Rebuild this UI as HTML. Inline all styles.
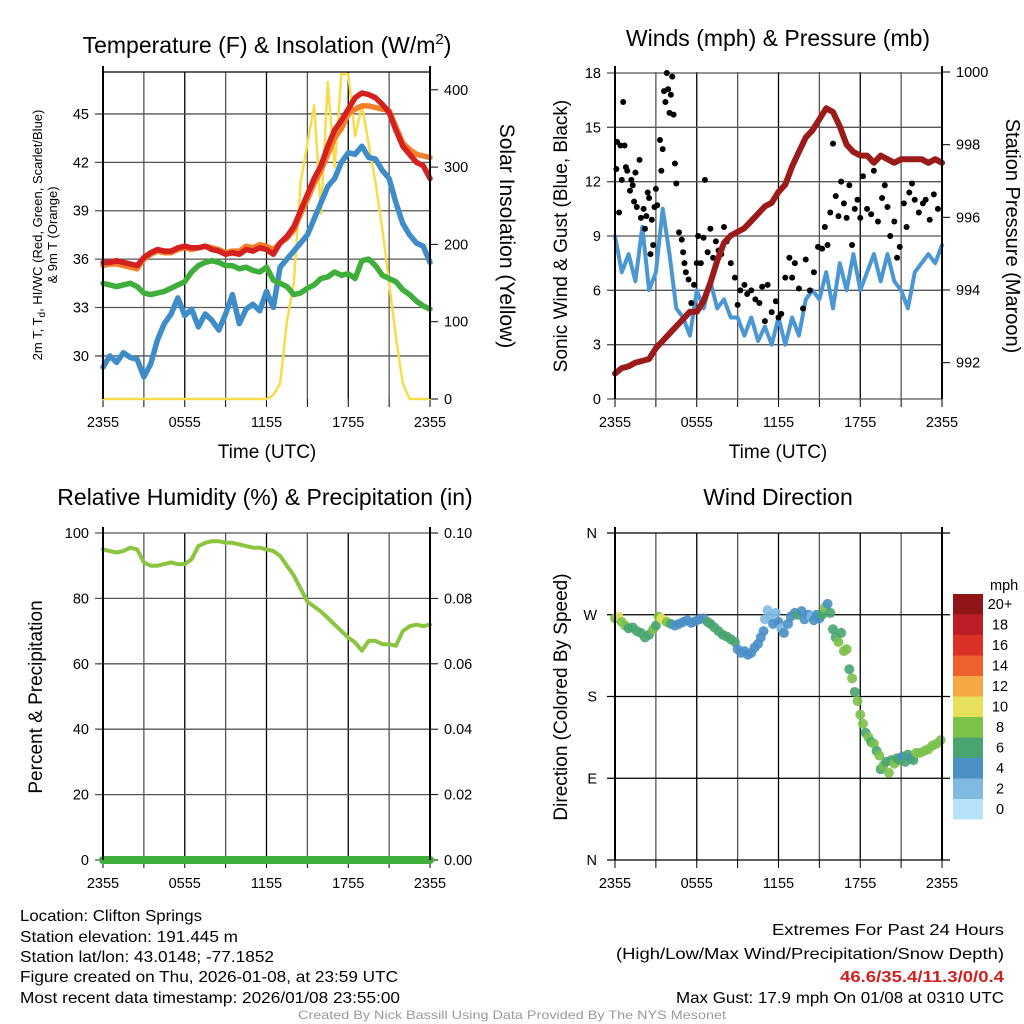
<!DOCTYPE html>
<html><head><meta charset="utf-8"><style>
html,body{margin:0;padding:0;background:#fff;}
svg{display:block;font-family:"Liberation Sans",sans-serif;}
.t{font-size:23px;fill:#000;}
.al{font-size:19px;fill:#000;}
.tk{font-size:14.5px;fill:#000;}
.nar{font-family:"Liberation Sans Narrow","Liberation Sans",sans-serif;font-size:16px;fill:#000;}
</style></head><body>
<svg id="chart" width="1024" height="1024" viewBox="0 0 1024 1024" xmlns="http://www.w3.org/2000/svg">
<text class="t" x="267" y="53" text-anchor="middle">Temperature (F) &amp; Insolation (W/m<tspan dy="-9" font-size="15">2</tspan><tspan dy="9">)</tspan></text>
<text class="t" x="778" y="46" text-anchor="middle">Winds (mph) &amp; Pressure (mb)</text>
<text class="t" x="265" y="505" text-anchor="middle">Relative Humidity (%) &amp; Precipitation (in)</text>
<text class="t" x="778" y="505" text-anchor="middle">Wind Direction</text>

<text class="al" x="267" y="458" text-anchor="middle">Time (UTC)</text>
<text class="al" x="778" y="458" text-anchor="middle">Time (UTC)</text>

<g transform="translate(42,235) rotate(-90)">
<text x="0" y="0" text-anchor="middle" font-size="13">2m T, T<tspan dy="3" font-size="10">d</tspan><tspan dy="-3">, HI/WC (Red, Green, Scarlet/Blue)</tspan></text>
<text x="0" y="15" text-anchor="middle" font-size="13">&amp; 9m T (Orange)</text>
</g>
<text transform="translate(500,236) rotate(90)" text-anchor="middle" font-size="21">Solar Insolation (Yellow)</text>
<text class="al" transform="translate(567,236) rotate(-90)" text-anchor="middle">Sonic Wind &amp; Gust (Blue, Black)</text>
<text transform="translate(1006,236) rotate(90)" text-anchor="middle" font-size="20">Station Pressure (Maroon)</text>
<text class="al" transform="translate(42,697) rotate(-90)" text-anchor="middle">Percent &amp; Precipitation</text>
<text class="al" transform="translate(567,697) rotate(-90)" text-anchor="middle">Direction (Colored By Speed)</text>

<g>
<text class="nar" x="20" y="921" textLength="182" lengthAdjust="spacingAndGlyphs">Location: Clifton Springs</text>
<text class="nar" x="20" y="942" textLength="218" lengthAdjust="spacingAndGlyphs">Station elevation: 191.445 m</text>
<text class="nar" x="20" y="962" textLength="254" lengthAdjust="spacingAndGlyphs">Station lat/lon: 43.0148; -77.1852</text>
<text class="nar" x="20" y="982" textLength="378" lengthAdjust="spacingAndGlyphs">Figure created on Thu, 2026-01-08, at 23:59 UTC</text>
<text class="nar" x="20" y="1003" textLength="380" lengthAdjust="spacingAndGlyphs">Most recent data timestamp: 2026/01/08 23:55:00</text>
</g>
<g>
<text class="nar" x="1004" y="935" text-anchor="end" textLength="232" lengthAdjust="spacingAndGlyphs">Extremes For Past 24 Hours</text>
<text class="nar" x="1004" y="959" text-anchor="end" textLength="388" lengthAdjust="spacingAndGlyphs">(High/Low/Max Wind/Precipitation/Snow Depth)</text>
<text class="nar" x="1004" y="982" text-anchor="end" font-weight="bold" style="fill:#d02020" textLength="164" lengthAdjust="spacingAndGlyphs">46.6/35.4/11.3/0/0.4</text>
<text class="nar" x="1004" y="1003" text-anchor="end" textLength="328" lengthAdjust="spacingAndGlyphs">Max Gust: 17.9 mph On 01/08 at 0310 UTC</text>
</g>
<text x="512" y="1019" text-anchor="middle" font-size="12" fill="#999" font-family="Liberation Sans Narrow, Liberation Sans, sans-serif" textLength="428" lengthAdjust="spacingAndGlyphs">Created By Nick Bassill Using Data Provided By The NYS Mesonet</text>
</svg>
<script>
// ---- data (30-minute samples, hour 0 = 2355 UTC previous day) ----
const tempHours = [0,0.5,1,1.5,2,2.5,3,3.5,4,4.5,5,5.5,6,6.5,7,7.5,8,8.5,9,9.5,10,10.5,11,11.5,12,12.5,13,13.5,14,14.5,15,15.5,16,16.5,17,17.5,18,18.5,19,19.5,20,20.5,21,21.5,22,22.5,23,23.5,24];
const temp2m = [35.8,35.8,35.9,35.8,35.7,35.6,36.1,36.4,36.6,36.5,36.5,36.7,36.8,36.7,36.7,36.8,36.6,36.5,36.3,36.4,36.3,36.6,36.5,36.7,36.6,36.3,37.0,37.4,38.0,39.0,40.0,41.0,41.8,43.0,44.0,44.6,45.3,46.0,46.3,46.2,46.0,45.6,45.1,44.0,43.0,42.5,42.0,41.8,41.0];
const temp9m = [35.6,35.7,35.7,35.6,35.5,35.4,36.0,36.3,36.5,36.4,36.4,36.6,36.7,36.6,36.7,36.8,36.7,36.6,36.4,36.5,36.5,36.8,36.7,36.9,36.8,36.6,37.0,37.3,37.8,38.8,39.7,40.7,41.5,42.5,43.5,44.1,45.0,45.3,45.5,45.5,45.4,45.3,45.2,44.2,43.2,42.8,42.5,42.4,42.3];
const heatIndex = [34.5,34.4,34.3,34.4,34.5,34.3,33.9,33.8,33.9,34.0,34.2,34.4,34.6,35.2,35.6,35.8,35.9,35.8,35.6,35.6,35.4,35.5,35.3,35.2,35.5,34.7,34.5,34.3,33.8,33.9,34.2,34.4,34.8,34.9,35.2,35.0,35.1,34.8,35.9,36.0,35.6,35.0,34.8,34.6,34.1,33.8,33.4,33.1,32.9];
const dewpoint = [29.3,30.0,29.6,30.2,29.9,29.8,28.7,29.5,31.0,32.0,32.6,33.6,32.5,32.9,31.8,32.6,32.2,31.6,32.6,33.8,32.0,32.9,33.2,32.8,34.0,33.0,35.5,36.0,36.5,37.0,37.5,38.5,39.5,40.5,41.0,42.0,42.6,42.5,43.0,42.3,42.2,41.5,41.0,39.5,38.2,37.5,37.0,36.8,35.8];
const solar = [0,0,0,0,0,0,0,0,0,0,0,0,0,0,0,0,0,0,0,0,0,0,0,0,0,5,20,100,150,280,330,380,240,410,300,420,420,340,380,330,280,220,150,80,20,0,0,0,0];
const pressure = [991.7,991.85,991.9,992.0,992.05,992.1,992.4,992.6,992.8,993.0,993.2,993.4,993.4,993.7,994.2,994.8,995.3,995.5,995.6,995.7,995.9,996.1,996.3,996.4,996.7,996.9,997.4,997.8,998.2,998.4,998.7,999.0,998.9,998.5,998.0,997.8,997.7,997.7,997.5,997.7,997.6,997.5,997.6,997.6,997.6,997.6,997.5,997.6,997.5];
const windSpeed = [9,7,8,6.5,9.5,6,7,10.5,8,5,4.5,3.5,6,5,6.5,5,5.5,4.5,4.5,3.5,4.5,3.2,4,3,4.5,3,4.5,3.5,5.5,6,5.5,7,5,7.5,6,8,6,7,8,6.5,8,6.5,6,5,7,7.5,8,7.5,8.5];
const humidity = [95,94.5,94,94.5,95.5,95,91,90,90,90.5,91,90.5,90.5,92,96,97,97.5,97.5,97,97,96.5,96,95.5,95.5,95,94.5,93,90,87,83,79,77.5,76,74,72,70,68,66.5,64,67,67,66,66,65.5,70,71.5,72,71.5,72];
const precip = [0,0,0,0,0,0,0,0,0,0,0,0,0,0,0,0,0,0,0,0,0,0,0,0,0,0,0,0,0,0,0,0,0,0,0,0,0,0,0,0,0,0,0,0,0,0,0,0,0];
const gustHours = [0.1,0.15,0.3,0.4,0.5,0.6,0.7,0.8,0.9,1.1,1.2,1.3,1.4,1.5,1.6,1.8,1.9,2.1,2.2,2.3,2.4,2.5,2.6,2.7,2.8,2.9,3.0,3.1,3.3,3.4,3.5,3.6,3.7,3.8,3.9,4.0,4.1,4.2,4.3,4.4,4.5,4.7,4.9,5.0,5.1,5.2,5.4,5.6,5.8,6.0,6.1,6.3,6.5,6.6,6.8,7.0,7.2,7.4,7.6,7.8,8.0,8.2,8.5,8.8,9.0,9.2,9.5,9.7,10.0,10.3,10.6,10.8,11.0,11.2,11.5,11.8,12.0,12.2,12.5,12.8,13.0,13.2,13.5,13.8,14.0,14.3,14.6,14.9,15.2,15.4,15.6,15.8,16.0,16.2,16.4,16.6,16.8,17.0,17.2,17.4,17.6,17.8,18.0,18.2,18.5,18.8,19.0,19.3,19.6,19.8,20.0,20.2,20.5,20.7,20.9,21.2,21.4,21.6,21.8,22.0,22.3,22.6,22.8,23.1,23.4,23.7];
const gustValues = [12.7,14.2,10.3,14,12.1,16.4,14,12.8,12.6,11.5,12.1,11.8,10.9,12.5,10.6,13.2,10,10.5,9.4,10.1,11.4,11.1,8,9.9,8.5,10.6,11.6,10.7,14.3,12.6,13.8,17,16.4,18,17.1,15.8,16.8,17.8,15.7,13,11.9,9.2,8.8,8.1,7.5,7,6.6,5.3,6.3,7.5,9,7.5,8.9,12.1,8.1,9.4,7.8,8.7,8.2,8,9.5,8.7,7.5,6.7,5.2,6.0,6.3,5.8,6.0,5.5,5.3,6.2,4.3,6.3,4.8,5.4,4.5,4.7,6.7,7.8,6.7,7.5,6.1,5.0,7.7,6.0,7.0,8.4,8.3,9.5,8.5,10.3,14.1,11.2,10.1,12,10.8,10,11.8,8.5,10.5,11,10.0,12.3,10.5,10.2,12.6,9.8,11.1,11.8,10.6,9.0,9.8,7.8,8.4,10.8,9.5,11.4,11.9,11,10.3,10.8,11,9.9,11.3,10.5];
const dirHours = [0,0.25,0.5,0.75,1.0, 1.3,1.6,1.9,2.2,2.5,2.8,3.0, 3.2,3.4,3.6,3.8,4.1,4.4, 4.7,5.0,5.3,5.6,5.9,6.2,6.5,6.8,7.0, 7.3,7.6,7.9,8.2,8.5,8.8, 9.0,9.25,9.5,9.75,10.0,10.25,10.5, 10.7,10.9,11.0,11.2,11.4,11.6,11.8,12.0,12.2, 12.4,12.7,12.9,13.2,13.4,13.7,13.9,14.2,14.4,14.6,14.8,15.0, 15.2,15.4,15.6,15.8, 16.0,16.2,16.4,16.6,16.8,17.0, 17.2,17.4,17.6,17.8,18.0,18.2, 18.4,18.6,18.8,19.0,19.2,19.4, 19.5,19.7,19.9,20.1,20.3,20.5, 20.7,20.9,21.1,21.3,21.5,21.7,21.9,22.1, 22.4,22.7,23.0,23.3,23.6,23.9];
const dirDegrees = [266,268,262,258,255, 256,252,250,245,248,254,258, 268,266,264,262,260,258, 260,262,264,261,263,265,266,262,260, 256,252,248,246,243,240, 232,228,230,226,228,234,238, 245,252,265,275,268,260,272,262,255, 250,260,268,272,270,274,265,270,268,264,270,266, 270,278,282,272, 254,245,240,250,230,232, 210,200,185,175,160,150, 140,135,130,128,120,115, 100,104,108,96,110,106, 112,110,114,108,116,112,110,118, 118,120,122,126,128,132];
const dirSpeeds = [9,10,8,8,7, 6,6,6,6,6,8,6, 8,10,10,9,6,4, 4,4,4,4,4,4,4,6,6, 6,6,6,6,6,6, 4,4,4,4,4,4,4, 4,4,2,2,2,4,2,4,2, 4,4,4,4,6,4,4,4,2,4,4,4, 6,8,4,6, 6,6,8,6,8,8, 6,8,6,8,8,8, 6,8,6,8,6,8, 6,8,6,8,6,8, 6,6,4,6,6,4,6,8, 8,8,8,8,8,8];
const xTickLabels = ["2355","0555","1155","1755","2355"];
const tempTicks = [30,33,36,39,42,45];
const solarTicks = [0,100,200,300,400];
const windTicks = [0,3,6,9,12,15,18];
const pressTicks = [992,994,996,998,1000];
const rhTicks = [0,20,40,60,80,100];
const precipTicks = ["0.00","0.02","0.04","0.06","0.08","0.10"];
const dirLabels = ["N","E","S","W","N"];
const legendLabels = ["0","2","4","6","8","10","12","14","16","18","20+"];
const legendColors = ["#b5e2f8","#80b9e2","#4a8fc6","#48a56f","#7cc14a","#e6e05a","#f5a843","#ee612c","#dc3127","#bb1e24","#8f1519"];

const NS = "http://www.w3.org/2000/svg";
const svg = document.getElementById("chart");
function mk(tag, attrs, parent){const e=document.createElementNS(NS,tag);for(const k in attrs)e.setAttribute(k,attrs[k]);(parent||svg).appendChild(e);return e;}
function lin(d0,d1,r0,r1){return v=>r0+(v-d0)*(r1-r0)/(d1-d0);}

const P1={l:103,r:430,t:72,b:399}, P2={l:615,r:942,t:72,b:399}, P3={l:103,r:430,t:533,b:860}, P4={l:615,r:942,t:533,b:860};

function frame(P,name){
  const g=mk("g",{});
  
  
  const x=lin(0,24,P.l,P.r);
  for(let h=0;h<=24;h+=3){
    const l=mk("line",{x1:x(h),x2:x(h),y1:P.t,y2:P.b,stroke:(h%6===0)?"#000":"#555","stroke-width":1.3},g);
    
    
    const tk=mk("line",{x1:x(h),x2:x(h),y1:P.b,y2:P.b+8,stroke:"#000"},g);
    
    
  }
  xTickLabels.forEach((s,i)=>{
    const t=mk("text",{x:x(i*6),y:P.b+28,"text-anchor":"middle",class:"tk"},g);
    t.textContent=s;
    
    
  });
  return {g,x};
}
function hgrid(g,P,y,vals,labels,side,major){
  vals.forEach((v,i)=>{
    const yy=y(v);
    const l=mk("line",{x1:P.l-(side==="l"?8:0),x2:P.r+(side==="r"?8:0),y1:yy,y2:yy,stroke:major?"#000":"#555","stroke-width":1.3},g);
    
    
    const t=mk("text",{x:side==="l"?P.l-14:P.r+14,y:yy+5,"text-anchor":side==="l"?"end":"start",class:"tk"},g);
    t.textContent=labels?labels[i]:v;
    
    
  });
}
function rticks(g,P,y,vals,labels){
  vals.forEach((v,i)=>{
    const yy=y(v);
    const l=mk("line",{x1:P.r,x2:P.r+8,y1:yy,y2:yy,stroke:"#000"},g);
    
    
    const t=mk("text",{x:P.r+14,y:yy+5,class:"tk"},g);
    t.textContent=labels?labels[i]:v;
    
    
  });
}
function line(g,xs,ys,x,y,color,w,name){
  const d=xs.map((h,i)=>(i?"L":"M")+x(h).toFixed(1)+","+y(ys[i]).toFixed(1)).join("");
  const p=mk("path",{d:d,fill:"none",stroke:color,"stroke-width":w,"stroke-linejoin":"round","stroke-linecap":"round"},g);
  
  
}
function axesBox(g,P){
  const l1=mk("line",{x1:P.l,x2:P.l,y1:P.t-6,y2:P.b,stroke:"#000","stroke-width":2},g);
  
  
  const l2=mk("line",{x1:P.r,x2:P.r,y1:P.t-6,y2:P.b,stroke:"#000","stroke-width":2},g);
  
  
}

// Panel 1
{
  const {g,x}=frame(P1,'temperature');
  const y=lin(27.33,47.6,P1.b,P1.t), ys=lin(0,423,P1.b,P1.t);
  hgrid(g,P1,y,tempTicks,null,"l",false);
  const top=mk("line",{x1:P1.l,x2:P1.r,y1:P1.t,y2:P1.t,stroke:"#000","stroke-width":1.2},g);
  
  
  rticks(g,P1,ys,solarTicks,null);
  line(g,tempHours,solar,x,ys,"#f7dc4b",2.5,'solar-insolation-line');
  line(g,tempHours,dewpoint,x,y,"#3f8dc8",5.5,'dewpoint-line');
  line(g,tempHours,heatIndex,x,y,"#3fae3a",5.5,'heat-index-line');
  line(g,tempHours,temp9m,x,y,"#f47f2a",5.5,'temp-9m-line');
  line(g,tempHours,temp2m,x,y,"#d4201f",5.5,'temp-2m-line');
  axesBox(g,P1);
}
// Panel 2
{
  const {g,x}=frame(P2,'wind');
  const y=lin(0,18,P2.b,P2.t+1), yp=lin(991.0,1000,P2.b,P2.t);
  hgrid(g,P2,y,windTicks,null,"l",false);
  rticks(g,P2,yp,pressTicks,null);
  line(g,tempHours,windSpeed,x,y,"#4a97d4",4,'sonic-wind-line');
  gustHours.forEach((h,i)=>{
    const c=mk("circle",{cx:x(h),cy:y(gustValues[i]),r:3,fill:"#000"},g);
    
    
  });
  line(g,tempHours,pressure,x,yp,"#9b1b1b",6,'station-pressure-line');
  axesBox(g,P2);
}
// Panel 3
{
  const {g,x}=frame(P3,'humidity');
  const y=lin(0,100,P3.b,P3.t), yq=lin(0,0.1,P3.b,P3.t);
  hgrid(g,P3,y,rhTicks,null,"l",false);
  rticks(g,P3,yq,[0,0.02,0.04,0.06,0.08,0.1],precipTicks);
  line(g,tempHours,humidity,x,y,"#8bc540",4,'relative-humidity-line');
  line(g,tempHours,precip,x,yq,"#3fae3a",8,'precipitation-line');
  axesBox(g,P3);
}
// Panel 4
{
  const {g,x}=frame(P4,'wind-direction');
  const y=lin(0,360,P4.b,P4.t);
  [0,90,180,270,360].forEach((v,i)=>{
    const yy=y(v);
    const l=mk("line",{x1:P4.l-8,x2:P4.r+8,y1:yy,y2:yy,stroke:"#000","stroke-width":1.3},g);
    
    
    const t=mk("text",{x:P4.l-18,y:yy+5,"text-anchor":"end",class:"tk"},g);
    t.textContent=dirLabels[i];
    
    
  });
  dirHours.forEach((h,i)=>{
    const bin=Math.min(10,Math.floor(dirSpeeds[i]/2));
    const c=mk("circle",{cx:x(h),cy:y(dirDegrees[i]),r:5,fill:legendColors[bin],"fill-opacity":0.9},g);
    
    
  });
  axesBox(g,P4);
  // legend
  const lg=mk("g",{});
  
  
  const lt=mk("text",{x:990,y:590,class:"tk"},lg);
  lt.textContent="mph";
  
  
  legendColors.forEach((c,i)=>{
    const yy=799-i*20.5;
    const r=mk("rect",{x:953,y:yy,width:30,height:20.5,fill:c},lg);
    
    
    const t=mk("text",{x:1000,y:yy+15,"text-anchor":"middle",class:"tk"},lg);
    t.textContent=legendLabels[i];
    
    
  });
}
</script>
</body></html>
